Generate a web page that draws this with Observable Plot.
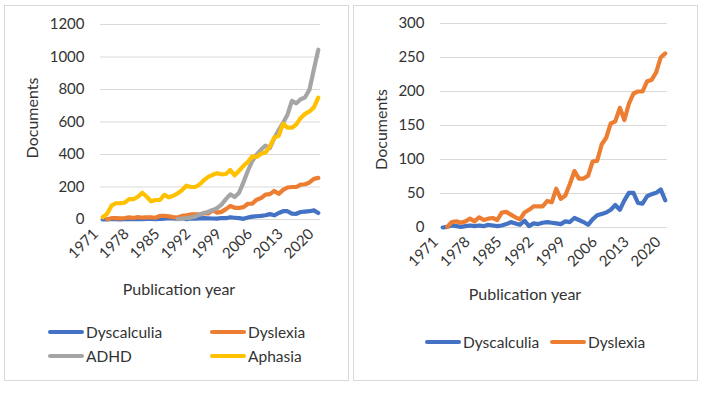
<!DOCTYPE html>
<html>
<head>
<meta charset="utf-8">
<script src="https://cdn.jsdelivr.net/npm/d3@7"></script>
<script src="https://cdn.jsdelivr.net/npm/@observablehq/plot@0.6"></script>
<style>
  html, body { margin: 0; padding: 0; background: #fff; }
  body { width: 706px; height: 395px; position: relative; overflow: hidden; font-family: Lato, "Liberation Sans", sans-serif; color: #333; }
  .panel { position: absolute; top: 5px; width: 343px; height: 374px; border: 1px solid #d9d9d9; background: #fff; }
  .panel svg { position: absolute; left: 0; top: 0; overflow: visible; }
  .xtitle { position: absolute; transform: translate(-50%, -50%); font-size: 16px; white-space: nowrap; }
  .leg { position: absolute; display: flex; align-items: center; font-size: 15.5px; white-space: nowrap; transform: translateY(-50%); }
  .leg .sw { width: 36px; height: 4px; border-radius: 2px; margin-right: 2px; }
</style>
</head>
<body>
<div id="left" class="panel" style="left:4px"></div>
<div id="right" class="panel" style="left:353px"></div>
<script>
// ---- Data ----
const years = [1971,1972,1973,1974,1975,1976,1977,1978,1979,1980,
               1981,1982,1983,1984,1985,1986,1987,1988,1989,1990,
               1991,1992,1993,1994,1995,1996,1997,1998,1999,2000,
               2001,2002,2003,2004,2005,2006,2007,2008,2009,2010,
               2011,2012,2013,2014,2015,2016,2017,2018,2019,2020];
const xTickLabels = [1971, 1978, 1985, 1992, 1999, 2006, 2013, 2020];

const dyscalculia = [0,1,3,2,1,2,3,2,3,2,
                     4,3,2,3,5,8,6,4,10,2,
                     6,5,7,8,7,6,5,9,8,14,
                     11,8,4,12,18,20,22,26,33,26,
                     40,51,51,36,35,46,49,51,56,40];
const dyslexia = [null,1,8,9,7,9,13,9,15,11,
                  13,14,11,22,23,19,15,12,22,26,
                  31,31,31,39,37,57,42,47,64,83,
                  72,72,76,97,98,122,132,153,156,176,
                  158,182,197,200,200,215,217,228,250,256];
const adhd = [null,null,null,null,null,null,null,null,null,null,
              null,null,null,null,null,null,null,2,5,8,
              12,18,30,40,48,58,70,92,125,155,
              138,165,230,300,360,400,430,455,440,500,
              550,595,645,730,715,740,752,800,925,1045];
const aphasia = [14,35,85,100,100,104,125,125,140,165,
                 140,112,120,120,152,136,146,160,180,208,
                 200,200,215,242,262,275,285,278,280,304,
                 272,300,330,355,388,385,405,412,450,505,
                 515,590,565,565,585,625,650,665,690,750];

const leftNames = ["Dyscalculia", "Dyslexia", "ADHD", "Aphasia"];
const leftColors = ["#4472C4", "#ED7D31", "#A5A5A5", "#FFC000"];
const leftValues = [dyscalculia, dyslexia, adhd, aphasia];
const leftYTicks = [0, 200, 400, 600, 800, 1000, 1200];

const rightNames = ["Dyscalculia", "Dyslexia"];
const rightColors = ["#4472C4", "#ED7D31"];
const rightValues = [dyscalculia, dyslexia];
const rightYTicks = [0, 50, 100, 150, 200, 250, 300];

const yTitle = "Documents";
const xTitle = "Publication year";

function makeChart({names, colors, values, yTicks, height, marginLeft, marginRight, marginTop, marginBottom, yTitleDx, yTitleDy}) {
  const rows = names.flatMap((n, s) => years.map((yr, i) => ({year: yr, value: values[s][i], name: n})));
  return Plot.plot({
    width: 343,
    height,
    marginLeft, marginRight, marginTop, marginBottom,
    style: {fontFamily: "Lato, 'Liberation Sans', sans-serif", fontSize: "15px", color: "#333", background: "transparent", overflow: "visible"},
    x: {domain: [years[0] - 0.5, years[years.length - 1] + 0.5], label: null},
    y: {domain: [yTicks[0], yTicks[yTicks.length - 1]], label: null},
    color: {domain: names, range: colors},
    marks: [
      Plot.gridY(yTicks, {stroke: "#d9d9d9", strokeOpacity: 1, strokeWidth: 1.2}),
      Plot.axisY(yTicks, {tickSize: 0, tickPadding: 16, label: null, fontSize: 15, tickFormat: d => String(d)}),
      Plot.axisX(xTickLabels, {tickSize: 0, tickPadding: 5, tickRotate: -45, label: null, fontSize: 15, dx: -7, dy: 7, tickFormat: d => String(d)}),
      Plot.line(rows, {x: "year", y: "value", z: "name", stroke: "name", strokeWidth: 4.2, strokeLinejoin: "round", strokeLinecap: "round"}),
      Plot.text([yTitle], {text: d => d, frameAnchor: "left", textAnchor: "middle", rotate: -90, dx: yTitleDx, dy: yTitleDy, fontSize: 16, fill: "#333"})
    ]
  });
}

function addTitle(panel, x, y) {
  const d = document.createElement("div");
  d.className = "xtitle";
  d.textContent = xTitle;
  d.style.left = x + "px";
  d.style.top = y + "px";
  panel.appendChild(d);
}

function addLegendItem(panel, name, color, x, y) {
  const d = document.createElement("div");
  d.className = "leg";
  d.style.left = x + "px";
  d.style.top = y + "px";
  const sw = document.createElement("span");
  sw.className = "sw";
  sw.style.background = color;
  const t = document.createElement("span");
  t.textContent = name;
  d.appendChild(sw); d.appendChild(t);
  panel.appendChild(d);
}

const left = document.getElementById("left");
left.appendChild(makeChart({
  names: leftNames, colors: leftColors, values: leftValues, yTicks: leftYTicks,
  height: 270, marginLeft: 95, marginRight: 28, marginTop: 18, marginBottom: 57,
  yTitleDx: -68, yTitleDy: -4
}));
addTitle(left, 174, 282);
leftNames.forEach((n, i) => addLegendItem(left, n, leftColors[i], 43 + (i % 2) * 162, 326 + Math.floor(i / 2) * 24));

const right = document.getElementById("right");
right.appendChild(makeChart({
  names: rightNames, colors: rightColors, values: rightValues, yTicks: rightYTicks,
  height: 280, marginLeft: 86, marginRight: 30, marginTop: 17, marginBottom: 59,
  yTitleDx: -59, yTitleDy: 4
}));
addTitle(right, 171, 287);
rightNames.forEach((n, i) => addLegendItem(right, n, rightColors[i], 71 + i * 125, 336));
</script>
</body>
</html>
